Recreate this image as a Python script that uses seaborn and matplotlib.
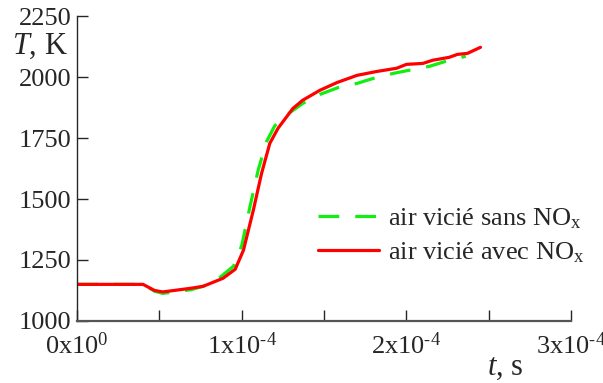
import numpy as np
import pandas as pd
import seaborn as sns
import matplotlib.pyplot as plt
from matplotlib.ticker import FixedLocator, FixedFormatter

# time in units of 1e-4 s, temperature in K
t_sans = [0, 0.40, 0.47, 0.52, 0.60, 0.69, 0.765, 0.87, 0.95, 1.00, 1.05, 1.10,
          1.15, 1.20, 1.25, 1.37, 1.475, 1.59, 1.70, 1.82, 1.92, 2.04, 2.14, 2.26, 2.36]
T_sans = [1150, 1150, 1122, 1113, 1120, 1128, 1142, 1180, 1225, 1310, 1470, 1620,
          1735, 1800, 1834, 1892, 1929, 1958, 1974, 1999, 2015, 2031, 2044, 2069, 2085]

t_avec = [0, 0.40, 0.47, 0.52, 0.69, 0.765, 0.886, 0.96, 1.01, 1.07, 1.12, 1.17,
          1.22, 1.31, 1.37, 1.475, 1.58, 1.70, 1.82, 1.94, 2.00, 2.10, 2.16, 2.26,
          2.31, 2.37, 2.45]
T_avec = [1150, 1150, 1125, 1119, 1134, 1142, 1175, 1212, 1290, 1454, 1605, 1728,
          1790, 1871, 1905, 1946, 1978, 2007, 2023, 2036, 2052, 2056, 2069, 2081,
          2093, 2097, 2122]

labels = ["air vicié sans NO$_\\mathrm{x}$", "air vicié avec NO$_\\mathrm{x}$"]
xticks = [0, 1e-4, 2e-4, 3e-4]
xticklabels = ["0x10$^{0}$", "1x10$^{\u20104}$", "2x10$^{\u20104}$", "3x10$^{\u20104}$"]
yticks = [1000, 1250, 1500, 1750, 2000, 2250]

df = pd.concat([
    pd.DataFrame({"t": np.array(t_sans) * 1e-4, "T": T_sans, "cas": labels[0]}),
    pd.DataFrame({"t": np.array(t_avec) * 1e-4, "T": T_avec, "cas": labels[1]}),
])

sns.set_style("ticks")
plt.rcParams["font.family"] = ["Liberation Serif", "DejaVu Serif"]
plt.rcParams["mathtext.fontset"] = "custom"
plt.rcParams["mathtext.rm"] = "Liberation Serif"
plt.rcParams["mathtext.it"] = "Liberation Serif:italic"

fig = plt.figure(figsize=(6.03, 3.83), dpi=100)
ax = fig.add_axes([0.128, 0.162, 0.819, 0.796])

sns.lineplot(data=df, x="t", y="T", hue="cas", style="cas",
             palette={labels[0]: "#11ee11", labels[1]: "#ff0000"},
             dashes={labels[0]: (6.5, 5), labels[1]: ""},
             linewidth=2.3, ax=ax, legend=True)

ax.set_xlim(0, 3e-4)
ax.set_ylim(1000, 2250)
ax.xaxis.set_major_locator(FixedLocator(xticks))
ax.xaxis.set_major_formatter(FixedFormatter(xticklabels))
ax.xaxis.set_minor_locator(FixedLocator([0.5e-4, 1.5e-4, 2.5e-4]))
ax.set_yticks(yticks)
ax.tick_params(axis="both", which="both", direction="in", length=8, width=1, labelsize=19)
ax.tick_params(axis="x", pad=8)
ax.tick_params(axis="y", pad=4)
sns.despine(ax=ax)
ax.spines["left"].set_linewidth(1)
ax.spines["bottom"].set_linewidth(1.6)
ax.spines["bottom"].set_color("#555555")
ax.set_xlabel("")
ax.set_ylabel("")

fig.text(0.113, 0.88, "$T$, K", ha="right", va="center", fontsize=22)
fig.text(0.807, 0.04, "$t$, s", ha="left", va="center", fontsize=22)

leg = ax.legend(handles=ax.get_legend().legend_handles,
                labels=labels, loc="upper left", bbox_to_anchor=(0.466, 0.41),
                frameon=False, fontsize=19, handlelength=2.3, handletextpad=0.35,
                labelspacing=0.35, borderaxespad=0)

fig.savefig("out.png", dpi=100)
